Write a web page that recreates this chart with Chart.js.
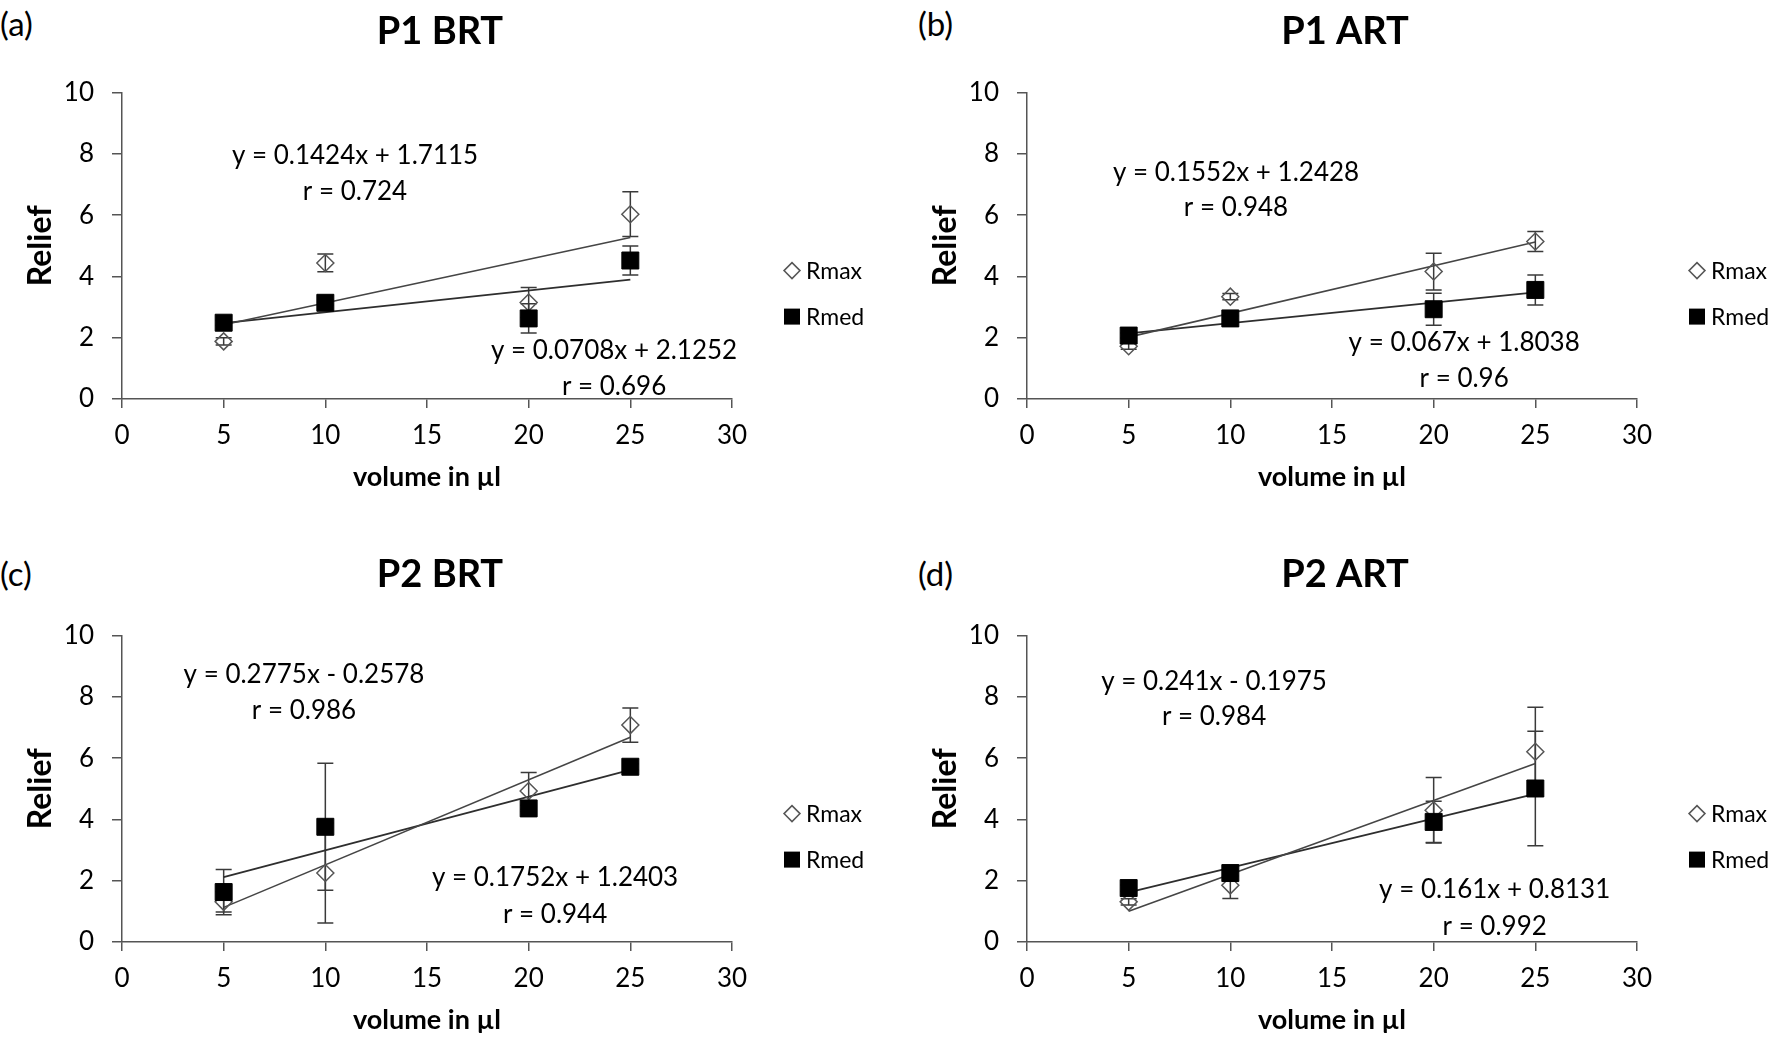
<!DOCTYPE html>
<html>
<head>
<meta charset="utf-8">
<script src="https://cdn.jsdelivr.net/npm/chart.js@4.4.1/dist/chart.umd.min.js"></script>
<style>
  html, body { margin: 0; padding: 0; background: #fff; overflow: hidden; }
  body { width: 1772px; height: 1039px; position: relative; font-family: Lato, "Liberation Sans", sans-serif; }
  canvas { position: absolute; }
  .tag { position: absolute; font-size: 33px; line-height: 33px; color: #000; }
</style>
</head>
<body>
<div class="tag" style="left:0px;top:7px">(a)</div>
<div class="tag" style="left:918px;top:7px">(b)</div>
<div class="tag" style="left:0px;top:557px">(c)</div>
<div class="tag" style="left:918px;top:557px">(d)</div>

<canvas id="chartA" width="880" height="496" style="left:0px;top:0px"></canvas>
<canvas id="chartB" width="880" height="496" style="left:905px;top:0px"></canvas>
<canvas id="chartC" width="880" height="496" style="left:0px;top:543px"></canvas>
<canvas id="chartD" width="880" height="496" style="left:905px;top:543px"></canvas>

<script>
// Shared axes
const volumes = [5, 10, 20, 25];
const xAxisTicks = [0, 5, 10, 15, 20, 25, 30];
const yAxisTicks = [0, 2, 4, 6, 8, 10];
const seriesNames = ['Rmax', 'Rmed'];

// P1 BRT
const p1brtRmax = [1.88, 4.44, 3.15, 6.03];
const p1brtRmaxErr = [0.12, 0.29, 0.49, 0.73];
const p1brtRmed = [2.49, 3.14, 2.63, 4.52];
const p1brtRmedErr = [0.08, 0.08, 0.48, 0.47];
const p1brtRmaxFit = [0.1424, 1.7115, 0.724];   // slope, intercept, r
const p1brtRmedFit = [0.0708, 2.1252, 0.696];

// P1 ART
const p1artRmax = [1.72, 3.34, 4.16, 5.14];
const p1artRmaxErr = [0.1, 0.1, 0.6, 0.33];
const p1artRmed = [2.07, 2.63, 2.93, 3.56];
const p1artRmedErr = [0.08, 0.08, 0.52, 0.49];
const p1artRmaxFit = [0.1552, 1.2428, 0.948];
const p1artRmedFit = [0.067, 1.8038, 0.96];

// P2 BRT
const p2brtRmax = [1.31, 2.25, 4.93, 7.08];
const p2brtRmaxErr = [0.33, 1.63, 0.6, 0.56];
const p2brtRmed = [1.63, 3.76, 4.36, 5.72];
const p2brtRmedErr = [0.74, 2.07, 0.1, 0.1];
const p2brtRmaxFit = [0.2775, -0.2578, 0.986];
const p2brtRmedFit = [0.1752, 1.2403, 0.944];

// P2 ART
const p2artRmax = [1.31, 1.85, 4.30, 6.21];
const p2artRmaxErr = [0.1, 0.43, 1.07, 1.45];
const p2artRmed = [1.76, 2.25, 3.92, 5.01];
const p2artRmedErr = [0.1, 0.1, 0.67, 1.87];
const p2artRmaxFit = [0.241, -0.1975, 0.984];
const p2artRmedFit = [0.161, 0.8131, 0.992];

const FONT = 'Lato, "Liberation Sans", sans-serif';
const AXIS_GREY = '#555555';
Chart.defaults.font.family = FONT;
Chart.defaults.color = '#000';

function eqText(fit) {
    const sign = fit[1] < 0 ? '-' : '+';
    return 'y = ' + fit[0] + 'x ' + sign + ' ' + Math.abs(fit[1]);
}

// error bars drawn under the markers
const errorBars = {
    id: 'errorBars',
    beforeDatasetsDraw(chart) {
        const {ctx, scales: {x, y}} = chart;
        ctx.save();
        ctx.strokeStyle = '#3a3a3a';
        ctx.lineWidth = 1.5;
        chart.data.datasets.forEach(ds => {
            if (!ds.errors) return;
            ds.data.forEach((p, i) => {
                const e = ds.errors[i];
                const px = x.getPixelForValue(p.x);
                const top = y.getPixelForValue(p.y + e);
                const bot = y.getPixelForValue(p.y - e);
                ctx.beginPath();
                ctx.moveTo(px, top); ctx.lineTo(px, bot);
                ctx.moveTo(px - 8, top); ctx.lineTo(px + 8, top);
                ctx.moveTo(px - 8, bot); ctx.lineTo(px + 8, bot);
                ctx.stroke();
            });
        });
        ctx.restore();
    }
};

// equation + r labels
const fitLabels = {
    id: 'fitLabels',
    afterDatasetsDraw(chart, args, opts) {
        const {ctx, scales: {x, y}} = chart;
        ctx.save();
        ctx.font = '26px ' + FONT;
        ctx.fillStyle = '#000';
        ctx.textAlign = 'center';
        ctx.textBaseline = 'middle';
        (opts.items || []).forEach(it => {
            ctx.fillText(it.text, x.getPixelForValue(it.x), y.getPixelForValue(it.y));
        });
        ctx.restore();
    }
};

// legend to the right of the plot
const sideLegend = {
    id: 'sideLegend',
    afterDraw(chart) {
        const {ctx, chartArea} = chart;
        const mx = chartArea.right + 60;
        const rows = [chartArea.top + 178, chartArea.top + 224];
        ctx.save();
        ctx.font = '23px ' + FONT;
        ctx.textBaseline = 'middle';
        ctx.fillStyle = '#000';
        // diamond
        ctx.beginPath();
        ctx.moveTo(mx - 8, rows[0]); ctx.lineTo(mx, rows[0] - 8);
        ctx.lineTo(mx + 8, rows[0]); ctx.lineTo(mx, rows[0] + 8);
        ctx.closePath();
        ctx.strokeStyle = AXIS_GREY; ctx.lineWidth = 1.5;
        ctx.stroke();
        // square
        ctx.fillRect(mx - 8, rows[1] - 8, 16, 16);
        ctx.fillText(seriesNames[0], mx + 14, rows[0] + 1);
        ctx.fillText(seriesNames[1], mx + 14, rows[1] + 1);
        ctx.restore();
    }
};

function makePanel(id, title, rmax, rmaxErr, rmed, rmedErr, rmaxFit, rmedFit, pos) {
    const trend = fit => [
        {x: volumes[0], y: fit[0] * volumes[0] + fit[1]},
        {x: volumes[volumes.length - 1], y: fit[0] * volumes[volumes.length - 1] + fit[1]}
    ];
    const xStep = xAxisTicks[1] - xAxisTicks[0];
    const yStep = yAxisTicks[1] - yAxisTicks[0];

    new Chart(document.getElementById(id), {
        type: 'scatter',
        data: {
            datasets: [
                {
                    label: seriesNames[1],
                    data: volumes.map((v, i) => ({x: v, y: rmed[i]})),
                    errors: rmedErr,
                    pointStyle: 'rect',
                    pointRadius: 12,
                    backgroundColor: '#000',
                    borderColor: '#000',
                    borderWidth: 1,
                    order: 0
                },
                {
                    label: seriesNames[0],
                    data: volumes.map((v, i) => ({x: v, y: rmax[i]})),
                    errors: rmaxErr,
                    pointStyle: 'rectRot',
                    pointRadius: 8.5,
                    backgroundColor: 'rgba(255,255,255,0)',
                    borderColor: AXIS_GREY,
                    borderWidth: 1.5,
                    order: 1
                },
                {
                    type: 'line',
                    data: trend(rmaxFit),
                    borderColor: '#454545',
                    borderWidth: 1.6,
                    pointRadius: 0,
                    order: 2
                },
                {
                    type: 'line',
                    data: trend(rmedFit),
                    borderColor: '#2e2e2e',
                    borderWidth: 1.8,
                    pointRadius: 0,
                    order: 2
                }
            ]
        },
        options: {
            responsive: false,
            animation: false,
            layout: {padding: 0},
            plugins: {
                legend: {display: false},
                tooltip: {enabled: false},
                title: {
                    display: true,
                    text: title,
                    font: {size: 38, weight: 'bold'},
                    color: '#000',
                    padding: {top: 9, bottom: 38}
                },
                fitLabels: {
                    items: [
                        {text: eqText(rmaxFit), x: pos.max[0], y: pos.max[1]},
                        {text: 'r = ' + rmaxFit[2], x: pos.max[0], y: pos.max[2]},
                        {text: eqText(rmedFit), x: pos.med[0], y: pos.med[1]},
                        {text: 'r = ' + rmedFit[2], x: pos.med[0], y: pos.med[2]}
                    ]
                }
            },
            scales: {
                x: {
                    type: 'linear',
                    min: xAxisTicks[0],
                    max: xAxisTicks[xAxisTicks.length - 1],
                    ticks: {stepSize: xStep, font: {size: 26}, color: '#000', padding: 12},
                    grid: {drawOnChartArea: false, drawTicks: true, tickLength: 9, color: AXIS_GREY, lineWidth: 1.5},
                    border: {color: AXIS_GREY, width: 1.5},
                    title: {display: true, text: 'volume in µl', font: {size: 27, weight: 'bold'}, color: '#000', padding: {top: 0, bottom: 3}},
                    afterFit: s => { s.height = 97; }
                },
                y: {
                    type: 'linear',
                    min: yAxisTicks[0],
                    max: yAxisTicks[yAxisTicks.length - 1],
                    ticks: {stepSize: yStep, font: {size: 26}, color: '#000', padding: 18},
                    grid: {drawOnChartArea: false, drawTicks: true, tickLength: 10, color: AXIS_GREY, lineWidth: 1.5},
                    border: {color: AXIS_GREY, width: 1.5},
                    title: {display: true, text: 'Relief', font: {size: 32, weight: 'bold'}, color: '#000', padding: {top: 21, bottom: 0}},
                    afterFit: s => { s.width = 122; }
                },
                // empty right-hand axis that keeps room for the legend
                y2: {
                    type: 'linear',
                    position: 'right',
                    display: true,
                    grid: {display: false},
                    border: {display: false},
                    ticks: {display: false},
                    afterFit: s => { s.width = 148; }
                }
            }
        },
        plugins: [errorBars, fitLabels, sideLegend]
    });
}

makePanel('chartA', 'P1 BRT', p1brtRmax, p1brtRmaxErr, p1brtRmed, p1brtRmedErr, p1brtRmaxFit, p1brtRmedFit,
    {max: [11.46, 7.94, 6.78], med: [24.2, 1.57, 0.42]});
makePanel('chartB', 'P1 ART', p1artRmax, p1artRmaxErr, p1artRmed, p1artRmedErr, p1artRmaxFit, p1artRmedFit,
    {max: [10.28, 7.39, 6.24], med: [21.5, 1.83, 0.65]});
makePanel('chartC', 'P2 BRT', p2brtRmax, p2brtRmaxErr, p2brtRmed, p2brtRmedErr, p2brtRmaxFit, p2brtRmedFit,
    {max: [8.95, 8.73, 7.55], med: [21.3, 2.09, 0.88]});
makePanel('chartD', 'P2 ART', p2artRmax, p2artRmaxErr, p2artRmed, p2artRmedErr, p2artRmaxFit, p2artRmedFit,
    {max: [9.2, 8.5, 7.35], med: [23.0, 1.7, 0.49]});
</script>
</body>
</html>
